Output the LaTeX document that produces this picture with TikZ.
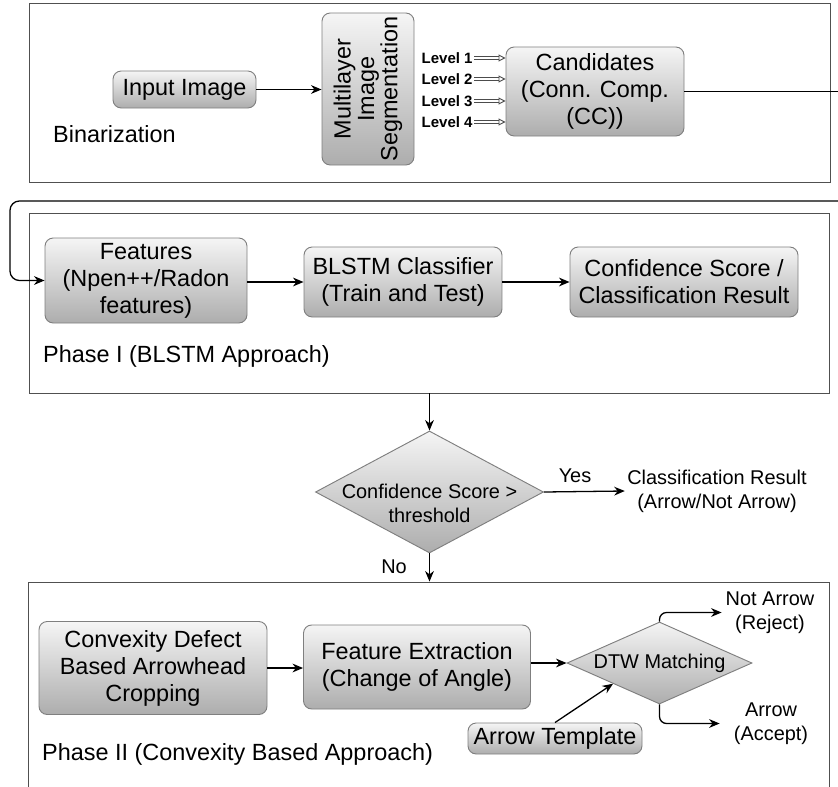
\documentclass[tikz,border=0pt]{standalone}
\usepackage{fontspec}
\setmainfont{Liberation Sans}
\usetikzlibrary{shapes.geometric,arrows.meta,calc}
\definecolor{boxline}{HTML}{7F7F7F}
\definecolor{frameline}{HTML}{505050}
\definecolor{shadetop}{HTML}{F5F5F5}
\definecolor{shadebot}{HTML}{ADADAD}
\newcommand{\pu}{0.03cm}
\newcommand{\boxfont}{\fontsize{20}{23}\selectfont}
\newcommand{\decfont}{\fontsize{17}{20.5}\selectfont}
\newcommand{\lvlfont}{\fontsize{12.8}{14}\selectfont\bfseries}
\tikzset{
	box/.style={draw=boxline, line width=0.8pt, rounded corners=7pt, top color=shadetop, bottom color=shadebot, align=center, font=\boxfont, inner sep=0pt},
	decision/.style={diamond, draw=boxline, line width=0.8pt, top color=shadetop, bottom color=shadebot, inner sep=0pt},
	frame/.style={draw=frameline, line width=0.8pt, inner sep=0pt},
	arr/.style={-{Stealth[length=9pt,width=7.5pt]}, line width=1.1pt},
	dbl/.style={draw=black!70, line width=0.8pt, double=white, double distance=1.1pt, -{Triangle[open,length=6pt,width=6pt]}},
	lbl/.style={font=\boxfont, anchor=west, inner sep=0pt},
	txt/.style={font=\decfont, align=center}
}
\begin{document}
\begin{tikzpicture}[x=\pu, y=-\pu]
	\useasboundingbox (0,0) rectangle (838,787);
	%
	% Binarization
	%
	\node[frame, minimum width=801*\pu, minimum height=179*\pu] (binframe) at (429.5,92.5) {};
	\node[box, minimum width=143*\pu, minimum height=37*\pu] (input) at (184.5,89.5) {Input Image};
	\node[box, rotate=90, font=\fontsize{20}{20}\selectfont, minimum width=152*\pu, minimum height=92*\pu] (seg) at (368,89) {Multilayer\\Image\\Segmentation};
	\node[box, minimum width=178*\pu, minimum height=89*\pu] (cand) at (595,91.5) {Candidates\\(Conn. Comp.\\(CC))};
	\node[lbl] (binlbl) at (53,134) {Binarization};
	\draw[arr] (input.east) -- (input.east -| seg.north);
	\foreach \k/\y in {1/58,2/79,3/101,4/122}{
		\node[font=\lvlfont, anchor=east, inner sep=1pt] (lv\k) at (474,\y) {Level \k};
		\draw[dbl] (lv\k.east) -- (lv\k.east -| cand.west);
	}
	\coordinate (cutA) at (838,91.5);
	\coordinate (cutB) at (838,201);
	\coordinate (loopL) at (10,201);
	\draw[line width=1.1pt] (cand.east) -- (cutA);
	%
	% Phase I
	%
	\node[frame, minimum width=800*\pu, minimum height=180*\pu] (pIframe) at (429,303) {};
	\node[box, minimum width=202*\pu, minimum height=85*\pu] (feat) at (146,280.5) {Features\\(Npen++/Radon\\features)};
	\node[box, minimum width=198*\pu, minimum height=70*\pu] (blstm) at (403,282) {BLSTM Classifier\\(Train and Test)};
	\node[box, minimum width=228*\pu, minimum height=70*\pu] (score) at (684,282) {Confidence Score /\\Classification Result};
	\node[lbl] (pIlbl) at (43,356) {Phase I (BLSTM Approach)};
	\draw[arr, rounded corners=8pt] (cutB) -- (loopL) |- (feat.west);
	\draw[arr] (feat.east |- blstm.west) -- (blstm.west);
	\draw[arr] (blstm.east) -- (score.west);
	%
	% Decision
	%
	\node[decision, minimum width=228*\pu, minimum height=122*\pu] (conf) at (429.5,492) {};
	\node[txt] (conftxt) at (429.5,503) {Confidence Score >\\threshold};
	\node[txt, inner xsep=2pt] (result) at (717,491) {Classification Result\\(Arrow/Not Arrow)};
	\node[font=\decfont] (yeslbl) at (575,476) {Yes};
	\node[font=\decfont] (nolbl) at (394,567) {No};
	\draw[arr] (pIframe.south -| conf.north) -- (conf.north);
	\draw[arr] (conf.east) -- (result.west);
	%
	% Phase II
	%
	\node[frame, minimum width=801*\pu, minimum height=241*\pu] (pIIframe) at (429,702.5) {};
	\draw[arr] (conf.south) -- (conf.south |- pIIframe.north);
	\node[box, minimum width=228*\pu, minimum height=93*\pu] (cvx) at (153,668) {Convexity Defect\\Based Arrowhead\\Cropping};
	\node[box, minimum width=227*\pu, minimum height=84*\pu] (fext) at (417,667) {Feature Extraction\\(Change of Angle)};
	\node[decision, minimum width=185*\pu, minimum height=82*\pu] (dtw) at (659.5,663) {};
	\node[font=\decfont] (dtwtxt) at (659.5,663) {DTW Matching};
	\node[box, minimum width=174*\pu, minimum height=31*\pu] (tmpl) at (555,738.5) {Arrow Template};
	\node[txt] (notarr) at (770,612.5) {Not Arrow\\(Reject)};
	\node[txt, inner xsep=12pt] (arracc) at (771,723.5) {Arrow\\(Accept)};
	\node[lbl] (pIIlbl) at (42,754) {Phase II (Convexity Based Approach)};
	\draw[arr] (cvx.east) -- (cvx.east -| fext.west);
	\draw[arr] (fext.east |- dtw.west) -- (dtw.west);
	\draw[arr] (tmpl.north) -- ($(dtw.west)!0.5!(dtw.south)$);
	\draw[arr, rounded corners=6pt] (dtw.north) |- (notarr.west);
	\draw[arr, rounded corners=6pt] (dtw.south) |- (arracc.west);
\end{tikzpicture}
\end{document}
